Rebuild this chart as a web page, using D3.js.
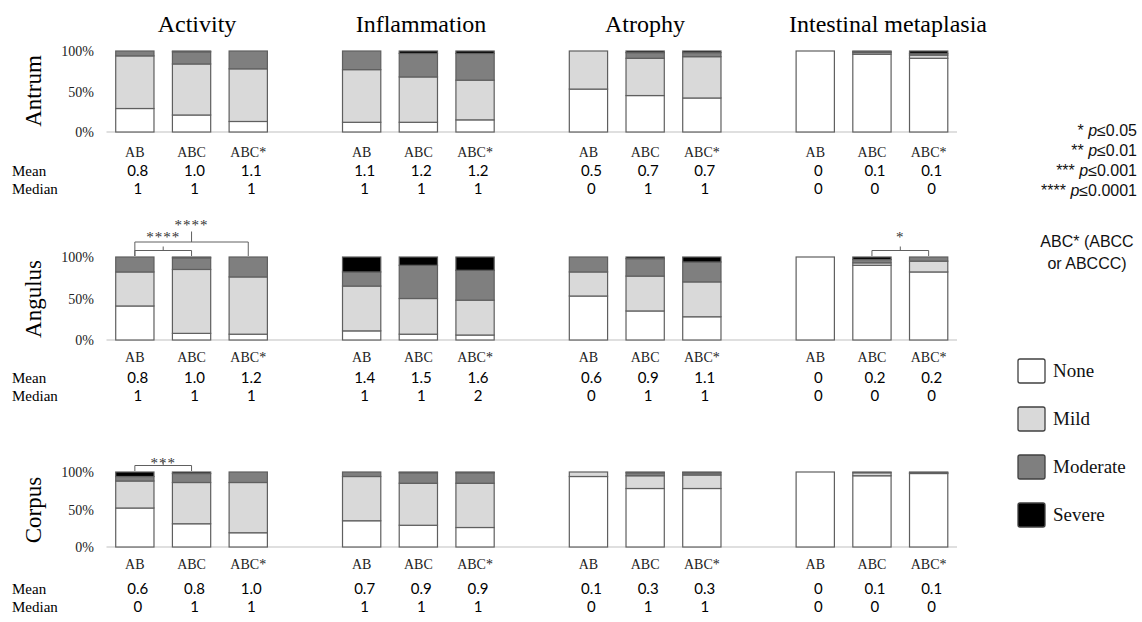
<!DOCTYPE html>
<html><head><meta charset="utf-8">
<script src="https://cdn.jsdelivr.net/npm/d3@7"></script>
<style>body{margin:0;background:#fff} svg{display:block}</style>
</head><body><svg id="c" width="1142" height="622"></svg>
<script>
// ---------- data ----------
const features = ["Activity", "Inflammation", "Atrophy", "Intestinal metaplasia"];
const groups = ["AB", "ABC", "ABC*"];
const grades = ["None", "Mild", "Moderate", "Severe"];
const regions = ["Antrum", "Angulus", "Corpus"];
const yTickValues = [0, 50, 100];
const yTickLabels = ["0%", "50%", "100%"];
// percentages [None, Mild, Moderate, Severe]; order: feature x group
const antrumPct = [
  [29, 65, 6, 0], [21, 63, 15, 1], [13, 65, 22, 0],
  [12, 65, 23, 0], [12, 56, 29, 3], [15, 49, 33, 3],
  [53, 47, 0, 0], [45, 46, 7, 2], [42, 51, 5, 2],
  [100, 0, 0, 0], [96, 2, 1, 1], [91, 4, 2, 3]
];
const angulusPct = [
  [41, 41, 18, 0], [8, 77, 14, 1], [7, 69, 24, 0],
  [11, 54, 17, 18], [7, 43, 40, 10], [6, 42, 36, 16],
  [53, 29, 18, 0], [35, 42, 21, 2], [28, 42, 24, 6],
  [100, 0, 0, 0], [90, 3, 4, 3], [82, 13, 5, 0]
];
const corpusPct = [
  [52, 36, 6, 6], [31, 55, 12, 2], [19, 67, 14, 0],
  [35, 59, 6, 0], [29, 56, 14, 1], [26, 59, 14, 1],
  [94, 6, 0, 0], [78, 17, 4, 1], [78, 18, 3, 1],
  [100, 0, 0, 0], [95, 4, 1, 0], [98, 0, 1, 1]
];
const antrumMean = ["0.8", "1.0", "1.1", "1.1", "1.2", "1.2", "0.5", "0.7", "0.7", "0", "0.1", "0.1"];
const antrumMedian = ["1", "1", "1", "1", "1", "1", "0", "1", "1", "0", "0", "0"];
const angulusMean = ["0.8", "1.0", "1.2", "1.4", "1.5", "1.6", "0.6", "0.9", "1.1", "0", "0.2", "0.2"];
const angulusMedian = ["1", "1", "1", "1", "1", "2", "0", "1", "1", "0", "0", "0"];
const corpusMean = ["0.6", "0.8", "1.0", "0.7", "0.9", "0.9", "0.1", "0.3", "0.3", "0", "0.1", "0.1"];
const corpusMedian = ["0", "1", "1", "1", "1", "1", "0", "1", "1", "0", "0", "0"];
const sigTests = [
  {region: "Angulus", feature: "Activity", from: "AB", to: "ABC", label: "****", level: 0},
  {region: "Angulus", feature: "Activity", from: "AB", to: "ABC*", label: "****", level: 1},
  {region: "Angulus", feature: "Intestinal metaplasia", from: "ABC", to: "ABC*", label: "*", level: 0},
  {region: "Corpus", feature: "Activity", from: "AB", to: "ABC", label: "***", level: 0}
];
const pLegend = [["*", "p", "≤0.05"], ["**", "p", "≤0.01"], ["***", "p", "≤0.001"], ["****", "p", "≤0.0001"]];
const noteLines = ["ABC* (ABCC", "or ABCCC)"];
const rowPct = [antrumPct, angulusPct, corpusPct];
const rowMean = [antrumMean, angulusMean, corpusMean];
const rowMedian = [antrumMedian, angulusMedian, corpusMedian];

// ---------- layout ----------
const SERIF = "'Liberation Serif', 'Times New Roman', serif";
const SANS = "'Liberation Sans', Arial, sans-serif";
const NUM = "Lato, 'Open Sans', sans-serif";
const rowLayout = [
  {top: 51, base: 132, labelY: 157, meanY: 176, medianY: 194, titleY: 91},
  {top: 257, base: 340, labelY: 362, meanY: 383, medianY: 401, titleY: 299},
  {top: 472, base: 547, labelY: 569, meanY: 594, medianY: 612, titleY: 510}
];
const colors = d3.scaleOrdinal().domain(grades).range(["#ffffff", "#d9d9d9", "#7f7f7f", "#000000"]);

const svg = d3.select("#c");

const slots = [];
features.forEach((f, fi) => {
  groups.forEach(g => slots.push(f + "|" + g));
  if (fi < features.length - 1) slots.push("gap" + fi);
});
const x = d3.scaleBand().domain(slots).range([106.5, 957]).paddingInner(0.325).paddingOuter(0.1625);
const keyOf = i => features[Math.floor(i / 3)] + "|" + groups[i % 3];

// column titles
const titleX = [197, 421, 645, 888];
svg.selectAll("text.ct").data(features).join("text")
  .attr("class", "ct")
  .attr("x", (d, i) => titleX[i]).attr("y", 32)
  .attr("text-anchor", "middle")
  .style("font-family", SERIF).style("font-size", "24px").attr("fill", "#000")
  .text(d => d);

const stack = d3.stack().keys([0, 1, 2, 3]);

regions.forEach((reg, ri) => {
  const L = rowLayout[ri];
  const y = d3.scaleLinear().domain([0, 100]).range([L.base, L.top]);
  const g = svg.append("g");

  // row title
  g.append("text")
    .attr("transform", `translate(41,${L.titleY}) rotate(-90)`)
    .attr("text-anchor", "middle")
    .style("font-family", SERIF).style("font-size", "23px")
    .text(reg);

  // y tick labels
  g.selectAll("text.yt").data(yTickValues).join("text")
    .attr("class", "yt")
    .attr("x", 94).attr("y", d => y(d) + 5)
    .attr("text-anchor", "end")
    .style("font-family", SERIF).style("font-size", "14px").attr("fill", "#222")
    .text((d, i) => yTickLabels[i]);

  // baseline
  g.append("line")
    .attr("x1", x.range()[0]).attr("x2", x.range()[1])
    .attr("y1", y(0)).attr("y2", y(0))
    .attr("stroke", "#bfbfbf").attr("stroke-width", 1);

  // stacked bars
  const series = stack(rowPct[ri]);
  series.forEach((s, si) => {
    g.selectAll("rect.s" + si).data(s).join("rect")
      .attr("class", "s" + si)
      .attr("x", (d, i) => x(keyOf(i)))
      .attr("width", x.bandwidth())
      .attr("y", d => y(d[1]))
      .attr("height", d => Math.max(0, y(d[0]) - y(d[1])))
      .attr("fill", colors(grades[si]))
      .attr("stroke", "#5f5f5f").attr("stroke-width", 1.2)
      .attr("display", d => (d[1] - d[0]) > 0 ? null : "none");
  });

  // category labels
  const idx = d3.range(12);
  g.selectAll("text.cat").data(idx).join("text")
    .attr("class", "cat")
    .attr("x", i => x(keyOf(i)) + x.bandwidth() / 2).attr("y", L.labelY)
    .attr("text-anchor", "middle")
    .style("font-family", SERIF).style("font-size", "14px").attr("fill", "#222")
    .text(i => groups[i % 3]);

  // Mean / Median
  g.append("text").attr("x", 12).attr("y", L.meanY)
    .style("font-family", SERIF).style("font-size", "15px").text("Mean");
  g.append("text").attr("x", 12).attr("y", L.medianY)
    .style("font-family", SERIF).style("font-size", "15px").text("Median");
  g.selectAll("text.mean").data(idx).join("text")
    .attr("class", "mean")
    .attr("x", i => x(keyOf(i)) + x.bandwidth() / 2 + 3).attr("y", L.meanY)
    .attr("text-anchor", "middle")
    .style("font-family", NUM).style("font-size", "15px")
    .text(i => rowMean[ri][i]);
  g.selectAll("text.med").data(idx).join("text")
    .attr("class", "med")
    .attr("x", i => x(keyOf(i)) + x.bandwidth() / 2 + 3).attr("y", L.medianY)
    .attr("text-anchor", "middle")
    .style("font-family", NUM).style("font-size", "15px")
    .text(i => rowMedian[ri][i]);

  // significance brackets
  const tests = sigTests.filter(t => t.region === reg);
  const hasOuter = tests.some(t => t.level === 1);
  tests.forEach(t => {
    const x1 = x(t.feature + "|" + t.from) + x.bandwidth() / 2;
    const x2 = x(t.feature + "|" + t.to) + x.bandwidth() / 2;
    const yb = y(100) - 6.5 - t.level * 8.5;
    const yEnd = y(100) - 1;
    const xm = (x1 + x2) / 2;
    const up = t.level === 1 ? 10.5 : 4;
    g.append("path")
      .attr("d", `M${x1},${yEnd}V${yb}H${x2}V${yEnd}M${xm},${yb}V${yb - up}`)
      .attr("fill", "none").attr("stroke", "#606060").attr("stroke-width", 1);
    let ly;
    if (t.level === 1) ly = yb - up - 2;
    else if (hasOuter) ly = yb - 9;
    else ly = yb + 2;
    g.append("text")
      .attr("x", xm).attr("y", ly)
      .attr("text-anchor", "middle")
      .style("font-family", SERIF).style("font-size", "15px").attr("fill", "#333")
      .attr("letter-spacing", "1px")
      .text(t.label);
  });
});

// p-value legend
const pl = svg.append("g");
pLegend.forEach((p, i) => {
  const t = pl.append("text")
    .attr("x", 1137).attr("y", 136 + i * 20)
    .attr("text-anchor", "end")
    .style("font-family", SANS).style("font-size", "16px").attr("fill", "#111");
  t.append("tspan").text(p[0] + " ");
  t.append("tspan").style("font-style", "italic").text(p[1]);
  t.append("tspan").text(p[2]);
});
noteLines.forEach((s, i) => {
  svg.append("text")
    .attr("x", 1087).attr("y", 247 + i * 22)
    .attr("text-anchor", "middle")
    .style("font-family", SANS).style("font-size", "16px").attr("fill", "#111")
    .text(s);
});

// grade legend
const lg = svg.append("g");
grades.forEach((gr, i) => {
  const cy = 371 + i * 48;
  lg.append("rect")
    .attr("x", 1018).attr("y", cy - 12).attr("width", 27).attr("height", 24)
    .attr("rx", 2)
    .attr("fill", colors(gr)).attr("stroke", "#404040").attr("stroke-width", 1.3);
  lg.append("text")
    .attr("x", 1053).attr("y", cy + 6)
    .style("font-family", SERIF).style("font-size", "19px").attr("fill", "#111")
    .text(gr);
});
</script>
</body></html>
